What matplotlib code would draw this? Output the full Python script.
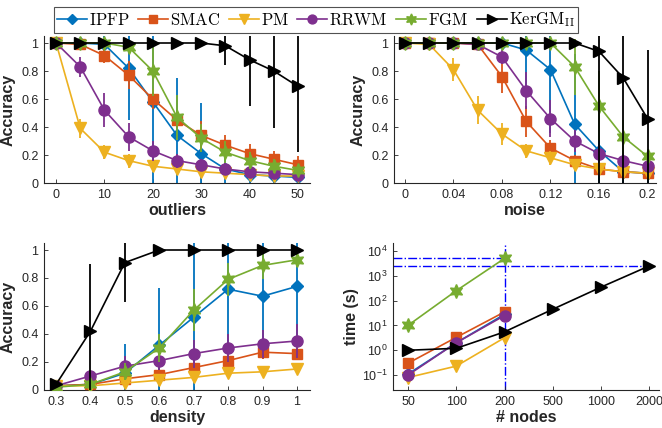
import numpy as np
import matplotlib
matplotlib.use("Agg")
import matplotlib.pyplot as plt
from matplotlib.lines import Line2D

plt.rcParams['font.family'] = ['Liberation Sans', 'DejaVu Sans']
plt.rcParams['mathtext.fontset'] = 'cm'

methods = ['IPFP', 'SMAC', 'PM', 'RRWM', 'FGM', 'KerGM']
legend_labels = [r'$\mathrm{IPFP}$', r'$\mathrm{SMAC}$', r'$\mathrm{PM}$', r'$\mathrm{RRWM}$',
                 r'$\mathrm{FGM}$', r'$\mathrm{KerGM}_{\mathrm{II}}$']
colors = ['#0072BD', '#D95319', '#EDB120', '#7E2F8E', '#77AC30', '#000000']
markers = ['D', 's', 'v', 'o', (6, 1, 0), '>']
msizes = [6.5, 6.5, 8.5, 8, 10, 9]

# ---- outliers ----
outliers = [0, 5, 10, 15, 20, 25, 30, 35, 40, 45, 50]
out_ipfp = [1, 1, 0.99, 0.82, 0.58, 0.34, 0.21, 0.10, 0.06, 0.05, 0.04]
out_smac = [1, 0.99, 0.91, 0.77, 0.60, 0.45, 0.34, 0.27, 0.21, 0.17, 0.13]
out_pm = [1, 0.39, 0.22, 0.16, 0.12, 0.10, 0.08, 0.07, 0.06, 0.05, 0.05]
out_rrwm = [1, 0.83, 0.52, 0.33, 0.23, 0.16, 0.13, 0.10, 0.08, 0.07, 0.06]
out_fgm = [1, 1, 1, 0.97, 0.80, 0.47, 0.32, 0.22, 0.16, 0.12, 0.09]
out_kergm = [1, 1, 1, 1, 1, 1, 1, 0.98, 0.88, 0.80, 0.69]
out_ipfp_sd = [0, 0.01, 0.06, 0.37, 0.60, 0.41, 0.36, 0.12, 0.08, 0.07, 0.06]
out_smac_sd = [0, 0.01, 0.05, 0.10, 0.07, 0.05, 0.10, 0.07, 0.07, 0.06, 0.06]
out_pm_sd = [0, 0.07, 0.05, 0.05, 0.04, 0.03, 0.03, 0.03, 0.03, 0.03, 0.03]
out_rrwm_sd = [0, 0.07, 0.12, 0.10, 0.07, 0.05, 0.04, 0.04, 0.04, 0.04, 0.03]
out_fgm_sd = [0, 0, 0.01, 0.03, 0.18, 0.16, 0.10, 0.08, 0.06, 0.05, 0.04]
out_kergm_sd = [0, 0, 0, 0, 0, 0, 0, 0.14, 0.33, 0.41, 0.47]

# ---- noise ----
noise = [0, 0.02, 0.04, 0.06, 0.08, 0.10, 0.12, 0.14, 0.16, 0.18, 0.20]
noi_ipfp = [1, 1, 1, 1, 1, 0.95, 0.81, 0.42, 0.23, 0.08, 0.07]
noi_smac = [1, 1, 1, 0.99, 0.76, 0.44, 0.25, 0.16, 0.10, 0.08, 0.07]
noi_pm = [1, 0.99, 0.81, 0.52, 0.35, 0.23, 0.18, 0.13, 0.10, 0.08, 0.07]
noi_rrwm = [1, 1, 1, 0.99, 0.90, 0.66, 0.46, 0.30, 0.21, 0.16, 0.12]
noi_fgm = [1, 1, 1, 1, 1, 1, 1, 0.83, 0.55, 0.33, 0.19]
noi_kergm = [1, 1, 1, 1, 1, 1, 1, 1, 0.94, 0.75, 0.46]
noi_ipfp_sd = [0, 0, 0, 0, 0.02, 0.30, 0.45, 0.50, 0.30, 0.15, 0.07]
noi_smac_sd = [0, 0, 0, 0.01, 0.12, 0.11, 0.06, 0.04, 0.03, 0.03, 0.03]
noi_pm_sd = [0, 0.01, 0.08, 0.10, 0.08, 0.05, 0.05, 0.04, 0.03, 0.03, 0.03]
noi_rrwm_sd = [0, 0, 0, 0.01, 0.05, 0.13, 0.13, 0.08, 0.06, 0.05, 0.04]
noi_fgm_sd = [0, 0, 0, 0, 0, 0, 0.02, 0.20, 0.25, 0.12, 0.05]
noi_kergm_sd = [0, 0, 0, 0, 0, 0, 0, 0, 0.95, 0.80, 0.49]

# ---- density ----
density = [0.3, 0.4, 0.5, 0.6, 0.7, 0.8, 0.9, 1.0]
den_ipfp = [0.03, 0.04, 0.12, 0.32, 0.52, 0.72, 0.67, 0.74]
den_smac = [0.03, 0.04, 0.08, 0.11, 0.16, 0.21, 0.27, 0.26]
den_pm = [0.03, 0.03, 0.05, 0.07, 0.09, 0.12, 0.13, 0.15]
den_rrwm = [0.03, 0.10, 0.17, 0.21, 0.26, 0.30, 0.33, 0.35]
den_fgm = [0.02, 0.04, 0.13, 0.30, 0.57, 0.79, 0.89, 0.93]
den_kergm = [0.04, 0.42, 0.91, 1, 1, 1, 1, 1]
den_ipfp_sd = [0.01, 0.03, 0.21, 0.41, 0.55, 0.40, 0.45, 0.40]
den_smac_sd = [0.01, 0.02, 0.03, 0.03, 0.04, 0.05, 0.05, 0.04]
den_pm_sd = [0.01, 0.01, 0.02, 0.03, 0.03, 0.03, 0.03, 0.03]
den_rrwm_sd = [0.01, 0.04, 0.07, 0.07, 0.10, 0.10, 0.10, 0.12]
den_fgm_sd = [0.01, 0.02, 0.06, 0.10, 0.15, 0.12, 0.10, 0.05]
den_kergm_sd = [0.01, 0.48, 0.28, 0, 0, 0, 0, 0]

# ---- time ----
nodes = ['50', '100', '200', '500', '1000', '2000']
time_ipfp = [0.11, 2.0, 28]
time_smac = [0.3, 3.3, 35]
time_pm = [0.08, 0.23, 3.2]
time_rrwm = [0.1, 2.0, 25]
time_fgm = [10, 250, 5000]
time_kergm = [1.0, 1.2, 5.5, 45, 350, 2500]

tick_color = '#262626'
label_kw = dict(fontsize=11.5, fontweight='bold', color='#262626')

fig = plt.figure(figsize=(6.62, 4.28), dpi=100)
W, H = 662, 428


def add_ax(l, r, t, b):
    return fig.add_axes([l / W, 1 - b / H, (r - l) / W, (b - t) / H])


def style(ax):
    for s in ['top', 'right']:
        ax.spines[s].set_visible(False)
    for s in ['left', 'bottom']:
        ax.spines[s].set_color(tick_color)
        ax.spines[s].set_linewidth(0.8)
    ax.tick_params(direction='in', length=3, width=0.6, colors=tick_color,
                   labelsize=9, pad=4)
    ax.tick_params(which='minor', direction='in', length=1.8, width=0.5, colors=tick_color)


def plot_acc(ax, x, series, sds):
    for i in range(6):
        ax.errorbar(x, series[i], yerr=sds[i], color=colors[i], marker=markers[i],
                    ms=msizes[i], lw=1.2, elinewidth=1.3, capsize=0,
                    mec=colors[i], mfc=colors[i], zorder=2 + i)


# Top-left
ax1 = add_ax(44, 310, 36, 183)
plot_acc(ax1, outliers,
         [out_ipfp, out_smac, out_pm, out_rrwm, out_fgm, out_kergm],
         [out_ipfp_sd, out_smac_sd, out_pm_sd, out_rrwm_sd, out_fgm_sd, out_kergm_sd])
ax1.set_xlim(-2.5, 52.5)
ax1.set_ylim(0, 1.05)
ax1.set_xticks([0, 10, 20, 30, 40, 50])
ax1.set_yticks([0, 0.2, 0.4, 0.6, 0.8, 1])
ax1.set_yticklabels(['0', '0.2', '0.4', '0.6', '0.8', '1'])
ax1.set_xlabel('outliers', labelpad=2, **label_kw)
ax1.set_ylabel('Accuracy', labelpad=4, **label_kw)
style(ax1)

# Top-right
ax2 = add_ax(394, 656, 36, 183)
plot_acc(ax2, noise,
         [noi_ipfp, noi_smac, noi_pm, noi_rrwm, noi_fgm, noi_kergm],
         [noi_ipfp_sd, noi_smac_sd, noi_pm_sd, noi_rrwm_sd, noi_fgm_sd, noi_kergm_sd])
ax2.set_xlim(-0.009, 0.207)
ax2.set_ylim(0, 1.05)
ax2.set_xticks([0, 0.04, 0.08, 0.12, 0.16, 0.2])
ax2.set_xticklabels(['0', '0.04', '0.08', '0.12', '0.16', '0.2'])
ax2.set_yticks([0, 0.2, 0.4, 0.6, 0.8, 1])
ax2.set_yticklabels(['0', '0.2', '0.4', '0.6', '0.8', '1'])
ax2.set_xlabel('noise', labelpad=2, **label_kw)
ax2.set_ylabel('Accuracy', labelpad=4, **label_kw)
style(ax2)

# Bottom-left
ax3 = add_ax(44, 310, 243, 390)
plot_acc(ax3, density,
         [den_ipfp, den_smac, den_pm, den_rrwm, den_fgm, den_kergm],
         [den_ipfp_sd, den_smac_sd, den_pm_sd, den_rrwm_sd, den_fgm_sd, den_kergm_sd])
ax3.set_xlim(0.265, 1.038)
ax3.set_ylim(0, 1.05)
ax3.set_xticks(density)
ax3.set_xticklabels(['0.3', '0.4', '0.5', '0.6', '0.7', '0.8', '0.9', '1'])
ax3.set_yticks([0, 0.2, 0.4, 0.6, 0.8, 1])
ax3.set_yticklabels(['0', '0.2', '0.4', '0.6', '0.8', '1'])
ax3.set_xlabel('density', labelpad=2, **label_kw)
ax3.set_ylabel('Accuracy', labelpad=4, **label_kw)
style(ax3)

# Bottom-right (time, log)
ax4 = add_ax(393, 659, 243, 390)
xi = np.arange(len(nodes))
tseries = [time_ipfp, time_smac, time_pm, time_rrwm, time_fgm, time_kergm]
ax4.set_yscale('log')
# reference lines
ax4.axvline(2, color='#0000FF', ls='-.', lw=1.0, zorder=1)
ax4.plot([-0.31, 2], [time_fgm[2], time_fgm[2]], color='#0000FF', ls='-.', lw=1.0, zorder=1)
ax4.plot([-0.31, 5], [time_kergm[5], time_kergm[5]], color='#0000FF', ls='-.', lw=1.0, zorder=1)
for i in range(6):
    ys = tseries[i]
    ax4.plot(xi[:len(ys)], ys, color=colors[i], marker=markers[i], ms=msizes[i],
             lw=1.2, mec=colors[i], mfc=colors[i], zorder=2 + i)
ax4.set_xlim(-0.31, 5.2)
ax4.set_ylim(10 ** -1.6, 10 ** 4.32)
ax4.set_xticks(xi)
ax4.set_xticklabels(nodes)
ax4.set_yticks([1e-1, 1e0, 1e1, 1e2, 1e3, 1e4])
ax4.set_xlabel('# nodes', labelpad=2, **label_kw)
ax4.set_ylabel('time (s)', labelpad=2, **label_kw)
style(ax4)

# Legend
handles = [Line2D([0], [0], color=colors[i], marker=markers[i], ms=msizes[i] * 0.8,
                  lw=1.2, mec=colors[i], mfc=colors[i]) for i in range(6)]
leg = fig.legend(handles, legend_labels, loc='center', bbox_to_anchor=(316 / W, 1 - 20 / H),
                 ncol=6, frameon=True, fancybox=False, fontsize=12, handlelength=1.8,
                 handletextpad=0.12, columnspacing=0.5, borderpad=0.2, borderaxespad=0)
leg.get_frame().set_edgecolor('#262626')
leg.get_frame().set_linewidth(0.8)

fig.savefig('out.png', dpi=100)
